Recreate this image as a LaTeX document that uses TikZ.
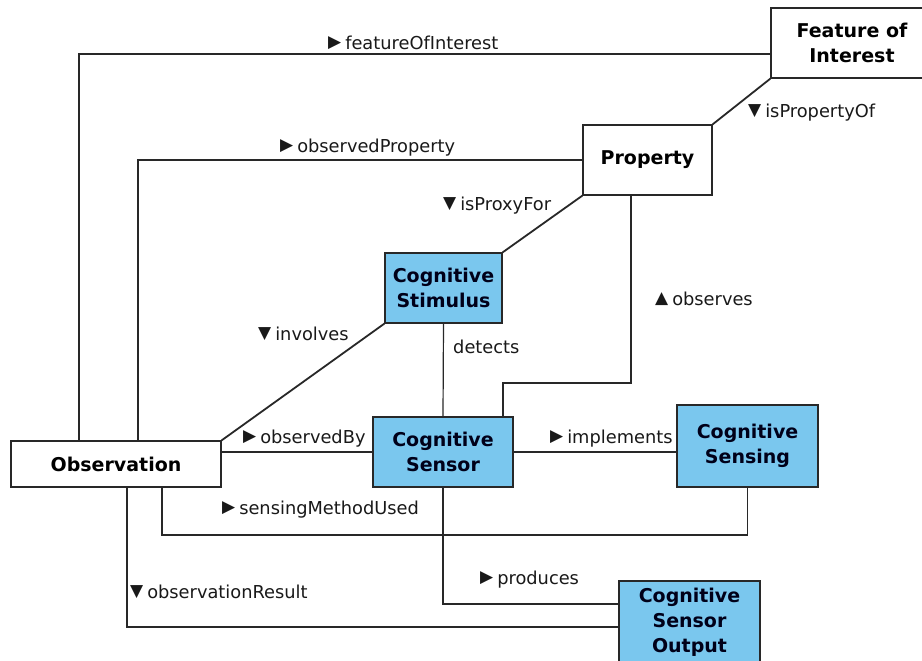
\documentclass[tikz,border=0pt]{standalone}
\usepackage{fontspec}
\setmainfont{DejaVu Sans}
\definecolor{cogblue}{RGB}{122,199,238}
\definecolor{edgegray}{RGB}{40,40,40}
\tikzset{
  cls/.style={draw=edgegray, line width=1.3pt, fill=white, inner sep=0pt, align=center,
    font=\bfseries\fontsize{19}{25}\selectfont},
  cog/.style={cls, fill=cogblue, text=black!90!blue},
  conn/.style={draw=edgegray, line width=1.8pt},
  thinconn/.style={draw=edgegray, line width=1.2pt},
  lbl/.style={anchor=west, inner sep=0pt, font=\fontsize{17.8}{21}\selectfont, text=black!90},
}
\newcommand{\trR}{\raisebox{2pt}{\fontsize{17}{17}\selectfont ▶}\hspace{4pt}}
\newcommand{\trD}{\raisebox{2pt}{\fontsize{17}{17}\selectfont ▼}\hspace{4pt}}
\newcommand{\trU}{\raisebox{2pt}{\fontsize{17}{17}\selectfont ▲}\hspace{4pt}}
\begin{document}
\begin{tikzpicture}[x=1pt,y=-1pt]
\useasboundingbox (0,0) rectangle (922,661);
\fill[white] (0,0) rectangle (922,661);

% nodes
\node[cls, minimum width=162pt, minimum height=70pt] (foi) at (852,43) {Feature of\\Interest};
\node[cls, minimum width=129pt, minimum height=70pt] (prop) at (647.5,160) {Property};
\node[cog, minimum width=117pt, minimum height=70pt] (stim) at (443.5,288) {Cognitive\\Stimulus};
\node[cls, minimum width=210pt, minimum height=46pt] (obs) at (116,464) {Observation};
\node[cog, minimum width=140pt, minimum height=70pt] (sensor) at (443,452) {Cognitive\\Sensor};
\node[cog, minimum width=141pt, minimum height=82pt] (sensing) at (747.5,446) {Cognitive\\Sensing};
\node[cog, minimum width=141pt, minimum height=82pt] (output) at (689.5,622) {Cognitive\\Sensor\\Output};

% connectors
\draw[conn] ([xshift=69pt]obs.north west) |- ([yshift=-11pt]foi.west);
\draw[conn] ([xshift=128pt]obs.north west) |- (prop.west);
\draw[conn] (prop.north east) -- (foi.south west);
\draw[conn] (prop.south west) -- (stim.north east);
\draw[conn] ([xshift=-16.5pt]prop.south) -- ++(0,187) -| ([xshift=-11pt]sensor.north east);
\draw[conn] (obs.north east) -- (stim.south west);
\draw[thinconn] (stim.south) -- (sensor.north);
\draw[conn] (sensor.west -| obs.east) -- (sensor.west);
\draw[conn] (sensor.east) -- (sensor.east -| sensing.west);
\draw[conn] ([xshift=152pt]obs.south west) -- ++(0,47) -| (sensing.south);
\draw[conn] (sensor.south) |- ([yshift=18pt]output.west);
\draw[conn] ([xshift=117pt]obs.south west) |- ([yshift=-5pt]output.west);

% labels
\node[lbl] (lfoi) at (328,43) {\trR featureOfInterest};
\node[lbl] (lop) at (280,148) {\trR observedProperty};
\node[lbl] (lipo) at (748,113) {\trD isPropertyOf};
\node[lbl] (lipf) at (443,206) {\trD isProxyFor};
\node[lbl] (lobs) at (655,299) {\trU observes};
\node[lbl] (linv) at (258,334) {\trD involves};
\node[lbl] (ldet) at (453,347) {detects};
\node[lbl] (lob) at (243,439) {\trR observedBy};
\node[lbl] (limp) at (550,439) {\trR implements};
\node[lbl] (lsmu) at (222,510) {\trR sensingMethodUsed};
\node[lbl] (lpro) at (480,580) {\trR produces};
\node[lbl] (lor) at (130,592) {\trD observationResult};
\end{tikzpicture}
\end{document}
